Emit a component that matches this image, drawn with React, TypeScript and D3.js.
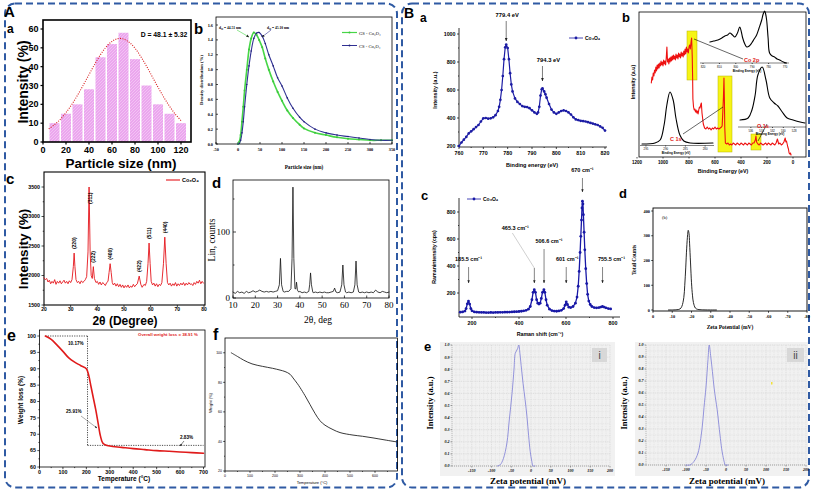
import React, { useEffect, useRef } from "react";
import * as d3 from "d3";

const SANS = "'Liberation Sans', Arial, Helvetica, sans-serif";
const SERIF = "'Liberation Serif', 'Times New Roman', serif";
const BORDER = "#2f5aa3";

// ---------- A.a particle size histogram ----------
const sizeBins = [10, 20, 30, 40, 50, 60, 70, 80, 90, 100, 110, 120];
const sizeCounts = [10, 15, 20, 28, 45, 52, 58, 44, 30, 20, 15, 10];
const fitSize = [5, 10, 15, 20, 25, 30, 35, 40, 45, 50, 55, 60, 65, 70, 75, 80, 85, 90, 95, 100, 105, 110, 115, 120];
const fitCount = [7.0, 9.2, 12.0, 15.6, 19.9, 24.8, 30.2, 35.8, 41.3, 46.4, 50.5, 53.4, 54.9, 54.7, 52.9, 49.8, 45.4, 40.3, 34.7, 29.1, 23.8, 19.0, 14.8, 11.4];
const sizeTicks = [0, 20, 40, 60, 80, 100, 120];
const countTicks = [0, 10, 20, 30, 40, 50, 60];

// ---------- A.b particle size distribution ----------
const psdSize = [0, 3, 6, 9, 12, 15, 20, 25, 30, 36, 42, 48, 55, 62, 70, 80, 90, 100, 112, 125, 140, 150, 175, 200, 225, 250, 275, 300, 325, 350];
const psdGS = [0, 0.03, 0.12, 0.3, 0.5, 0.72, 1.0, 1.27, 1.42, 1.5, 1.47, 1.4, 1.3, 1.15, 1.0, 0.84, 0.7, 0.58, 0.45, 0.35, 0.26, 0.21, 0.15, 0.12, 0.09, 0.07, 0.06, 0.05, 0.05, 0.05];
const psdCS = [0, 0.01, 0.05, 0.15, 0.3, 0.5, 0.8, 1.05, 1.25, 1.42, 1.49, 1.5, 1.45, 1.35, 1.2, 1.05, 0.89, 0.78, 0.62, 0.48, 0.36, 0.3, 0.2, 0.15, 0.12, 0.1, 0.08, 0.06, 0.05, 0.05];
const psdXTicks = [-50, 0, 50, 100, 150, 200, 250, 300, 350];
const psdYTicks = [0, 0.2, 0.4, 0.6, 0.8, 1.0, 1.2, 1.4, 1.6];

// ---------- A.c XRD (red) ----------
const xrdRed: [number, number][] = [
  [20, 1960], [20.5, 1930], [21, 1950], [21.5, 1890], [22, 1920], [22.5, 1860], [23, 1900], [23.5, 1870], [24, 1930], [24.5, 1850],
  [25, 1900], [25.5, 1870], [26, 1910], [26.5, 1860], [27, 1890], [27.5, 1920], [28, 1870], [28.5, 1900], [29, 1860], [29.5, 1910],
  [30, 1880], [30.5, 1930], [31, 2150], [31.3, 2380], [31.6, 2150], [32, 1930], [32.5, 1880], [33, 1900], [33.5, 1860], [34, 1910],
  [34.5, 1880], [35, 1900], [35.5, 1930], [36, 1980], [36.5, 2400], [36.9, 3500], [37.3, 2400], [37.7, 2000], [38.1, 1950], [38.5, 2150],
  [38.9, 1950], [39.5, 1880], [40, 1900], [40.5, 1850], [41, 1890], [41.5, 1840], [42, 1880], [42.5, 1860], [43, 1830], [43.5, 1880],
  [44, 1900], [44.4, 2050], [44.8, 2200], [45.2, 2050], [45.6, 1880], [46, 1840], [46.5, 1870], [47, 1820], [47.5, 1860], [48, 1810],
  [48.5, 1850], [49, 1800], [49.5, 1840], [50, 1790], [50.5, 1830], [51, 1800], [51.5, 1840], [52, 1790], [52.5, 1820], [53, 1800],
  [53.5, 1850], [54, 1810], [54.5, 1840], [55, 1860], [55.7, 1990], [56.3, 1850], [56.8, 1800], [57.5, 1850], [58, 1830], [58.5, 1900],
  [59, 2200], [59.4, 2550], [59.8, 2200], [60.2, 1900], [60.7, 1840], [61.2, 1870], [61.7, 1820], [62.2, 1860], [62.7, 1810], [63.2, 1850],
  [63.7, 1830], [64.2, 1880], [64.8, 2200], [65.3, 2650], [65.8, 2200], [66.3, 1880], [66.8, 1840], [67.3, 1870], [67.8, 1820], [68.3, 1860],
  [68.8, 1830], [69.3, 1880], [69.8, 1820], [70.3, 1860], [70.8, 1830], [71.3, 1870], [71.8, 1840], [72.3, 1880], [72.8, 1830], [73.3, 1870],
  [73.8, 1840], [74.3, 1880], [74.8, 1850], [75.3, 1860], [75.8, 1830], [76.3, 1880], [76.8, 1850], [77.3, 1900], [77.8, 1870], [78.3, 1920],
  [78.8, 1860], [79.3, 1900], [79.8, 1870],
];
const xrdPeakPos = [31.3, 36.9, 38.5, 44.8, 55.7, 59.4, 65.3];
const xrdPeakLabel = ["(220)", "(311)", "(222)", "(400)", "(422)", "(511)", "(440)"];
const xrdPeakLabelTop = [2380, 3500, 2150, 2200, 1990, 2550, 2650];
const xrdXTicks = [20, 30, 40, 50, 60, 70, 80];
const xrdYTicks = [1500, 2000, 2500, 3000, 3500];

// ---------- A.d XRD (black) ----------
const xrdBlack: [number, number][] = [
  [10, 9], [11, 7], [12, 10], [13, 8], [14, 9], [15, 7], [16, 10], [17, 8], [18, 9], [19, 11], [20, 9], [21, 10], [22, 12], [23, 10],
  [24, 9], [25, 10], [26, 9], [27, 10], [28, 9], [29, 10], [30, 11], [30.8, 20], [31.3, 60], [31.8, 20], [32.5, 10], [33, 9], [34, 10],
  [35, 10], [36, 14], [36.5, 60], [36.9, 168], [37.3, 60], [37.8, 14], [38.2, 14], [38.5, 24], [38.9, 12], [39.5, 9], [40, 10], [41, 8],
  [42, 9], [43, 8], [44, 10], [44.4, 20], [44.8, 38], [45.2, 20], [45.8, 9], [46, 8], [47, 9], [48, 8], [49, 9], [50, 8], [51, 9], [52, 8],
  [53, 8], [54, 9], [55, 10], [55.6, 15], [56.2, 9], [57, 8], [58, 9], [58.8, 20], [59.3, 50], [59.8, 20], [60.5, 9], [61, 8], [62, 9],
  [63, 8], [64, 9], [64.7, 20], [65.2, 56], [65.7, 20], [66.4, 9], [67, 8], [68, 9], [69, 8], [70, 9], [71, 8], [72, 9], [73, 8], [74, 12],
  [75, 9], [76, 8], [77, 10], [78, 9], [79, 8], [80, 9],
];
const linXTicks = [10, 20, 30, 40, 50, 60, 70, 80];

// ---------- A.e TGA (red) ----------
const tgaTemp = [25, 50, 75, 100, 125, 150, 175, 200, 210, 220, 230, 240, 250, 260, 270, 280, 300, 350, 400, 450, 500, 550, 600, 650, 700];
const tgaWeight = [100, 99, 97.2, 95.3, 93.3, 92, 91, 90, 88, 84.5, 81, 77.5, 73.5, 69.5, 67.3, 66.8, 66.4, 66, 65.6, 65.3, 65, 64.8, 64.6, 64.4, 64.2];
const tgaXTicks = [0, 100, 200, 300, 400, 500, 600, 700];
const tgaYTicks = [60, 65, 70, 75, 80, 85, 90, 95, 100];

// ---------- A.f TGA (black) ----------
const tgbTemp = [25, 50, 75, 108, 150, 190, 220, 240, 260, 272, 290, 300, 320, 340, 360, 380, 400, 432, 460, 512, 550, 592, 640, 690];
const tgbWeight = [100, 97.5, 95, 92.5, 90.8, 89.5, 88.3, 87.3, 85.5, 83, 79, 76.5, 71, 65, 59, 54, 51, 48, 46, 44.3, 43.5, 42.4, 41, 39.6];
const tgbXTicks = [0, 100, 200, 300, 400, 500, 600];
const tgbYTicks = [20, 40, 60, 80, 100];

// ---------- B.a XPS Co 2p ----------
const xpsCo: [number, number][] = [
  [760, 200], [761, 225], [762, 245], [763, 265], [764, 290], [765, 305], [766, 320], [767, 335], [768, 350], [769, 375], [770, 398],
  [771, 400], [772, 395], [773, 398], [774, 405], [775, 420], [776, 450], [776.5, 480], [777, 530], [777.5, 600], [778, 700], [778.5, 820],
  [779, 905], [779.4, 925], [780, 900], [780.5, 820], [781, 720], [781.5, 640], [782, 590], [783, 540], [784, 515], [785, 500], [786, 485],
  [787, 480], [788, 478], [789, 470], [790, 455], [791, 440], [792, 430], [792.5, 440], [793, 480], [793.5, 560], [794, 605], [794.3, 612],
  [795, 590], [795.5, 570], [796, 545], [797, 500], [798, 460], [799, 440], [800, 430], [801, 440], [802, 450], [803, 455], [804, 450],
  [805, 440], [806, 425], [807, 405], [808, 390], [809, 385], [810, 380], [811, 378], [812, 375], [813, 370], [814, 365], [815, 360],
  [816, 355], [817, 350], [818, 340], [819, 330], [820, 310],
];
const xpsXTicks = [760, 770, 780, 790, 800, 810, 820];
const xpsYTicks = [200, 400, 600, 800, 1000];

// ---------- B.b survey ----------
const survey: [number, number][] = [
  [1090, 74], [1085, 80], [1080, 77], [1075, 84], [1070, 81], [1065, 87], [1060, 84], [1055, 90], [1050, 86], [1045, 92], [1040, 88],
  [1035, 93], [1030, 89], [1025, 94], [1020, 91], [1015, 96], [1010, 92], [1005, 95], [1000, 91], [995, 97], [990, 93], [985, 96],
  [980, 92], [975, 99], [970, 110], [965, 95], [960, 98], [955, 93], [950, 99], [945, 95], [940, 100], [935, 96], [930, 101], [925, 97],
  [920, 102], [915, 98], [910, 101], [905, 97], [900, 103], [895, 99], [890, 102], [885, 98], [880, 104], [875, 100], [870, 103], [865, 99],
  [860, 105], [855, 101], [850, 104], [845, 100], [840, 106], [835, 102], [830, 108], [825, 103], [820, 110], [815, 105], [810, 108],
  [805, 104], [800, 110], [795, 112], [790, 108], [785, 114], [780, 119], [778, 112], [775, 100], [772, 78], [770, 58], [765, 50],
  [760, 47], [755, 48], [750, 45], [745, 47], [740, 44], [735, 46], [730, 43], [725, 47], [720, 50], [715, 49], [710, 52], [705, 54],
  [700, 44], [690, 33], [680, 29], [670, 28], [660, 30], [650, 28], [640, 29], [630, 27], [620, 29], [610, 28], [600, 30], [590, 28],
  [580, 29], [570, 28], [560, 29], [550, 30], [545, 31], [540, 45], [535, 60], [531, 79], [528, 60], [525, 30], [520, 14], [510, 13],
  [500, 14], [490, 12], [480, 13], [470, 12], [460, 14], [450, 13], [440, 12], [430, 14], [420, 13], [410, 12], [400, 14], [390, 13],
  [380, 12], [370, 14], [360, 13], [350, 12], [340, 14], [330, 13], [320, 12], [310, 14], [300, 14], [290, 17], [285, 21], [280, 15],
  [270, 13], [260, 12], [250, 14], [240, 13], [230, 12], [220, 13], [210, 14], [200, 12], [190, 14], [180, 13], [170, 12], [160, 14],
  [150, 13], [140, 12], [130, 14], [120, 18], [110, 13], [100, 14], [90, 12], [80, 13], [70, 15], [60, 19], [55, 15], [50, 16], [45, 13],
  [40, 10], [35, 8], [30, 4], [25, 3], [20, 4], [15, 2],
];
const surveyTicks = [1200, 1000, 800, 600, 400, 200, 0];
const insetCo: [number, number][] = [
  [815.8, 21], [813.5, 22], [810.9, 23], [808.5, 25], [806.7, 27], [805, 28], [803.6, 30], [802, 28], [800.6, 26], [799, 30], [797.6, 36],
  [796.6, 31], [795.8, 25], [794.5, 19], [793.3, 16], [791.8, 17], [790.3, 20], [788.8, 24], [787.3, 28], [785.8, 35], [784.2, 43],
  [783.3, 49], [782.4, 52], [781.8, 49], [781.2, 43], [780.3, 25], [779.4, 10], [777.8, 7], [776.4, 6], [774.8, 4], [773.3, 3], [771, 1], [769.1, 0],
];
const insetCoTicks = [820, 810, 800, 790, 780, 770];
const insetO: [number, number][] = [
  [538, 7], [536.5, 9], [535.8, 17], [535.2, 32], [534.7, 52], [533.9, 60], [533.2, 47], [532.5, 29], [531.7, 24], [531, 21], [530.2, 15],
  [529.3, 9], [528.2, 7], [526.9, 5], [526, 4],
];
const insetOTicks = [536, 534, 532, 530, 528];
const insetC: [number, number][] = [
  [296, 1], [292.7, 2], [291.4, 5], [290.4, 20], [289.7, 40], [288.9, 53], [288.1, 45], [287.4, 27], [286.4, 10], [285.4, 4], [283.8, 2], [278, 2],
];
const insetCTicks = [295, 290, 285, 280];

// ---------- B.c Raman ----------
const ramanShift = [150, 160, 170, 175, 180, 185, 190, 195, 200, 210, 220, 230, 240, 250, 260, 270, 280, 290, 300, 310, 320, 330, 340, 350, 360, 370, 380, 390, 400, 410, 420, 430, 440, 448, 455, 460, 465, 470, 475, 480, 485, 490, 495, 500, 506, 510, 515, 520, 530, 540, 550, 560, 570, 580, 590, 596, 601, 606, 612, 620, 630, 640, 647, 652, 656, 660, 663, 666, 668, 670, 672, 674, 677, 680, 684, 688, 692, 697, 703, 710, 720, 730, 740, 748, 755, 762, 770, 780, 790];
const ramanInt = [58, 60, 66, 85, 120, 140, 118, 85, 68, 60, 58, 57, 56, 56, 55, 55, 56, 55, 56, 56, 57, 57, 58, 58, 59, 60, 61, 62, 63, 65, 68, 72, 80, 100, 150, 205, 225, 205, 150, 125, 118, 125, 160, 205, 225, 205, 150, 110, 80, 70, 66, 65, 67, 72, 85, 110, 135, 115, 95, 92, 100, 125, 170, 250, 360, 500, 620, 740, 830, 880, 860, 780, 650, 520, 380, 270, 190, 140, 115, 100, 92, 90, 92, 96, 100, 96, 90, 85, 82];
const ramanXTicks = [200, 400, 600, 800];
const ramanYTicks = [200, 400, 600, 800];
const ramanPeaks = [185.5, 465.3, 506.6, 601, 670, 755.5];
const ramanPeakLabels = ["185.5 cm⁻¹", "465.3 cm⁻¹", "506.6 cm⁻¹", "601 cm⁻¹", "670 cm⁻¹", "755.5 cm⁻¹"];

// ---------- B.d zeta (counts) ----------
const zetaMv = [-8, -12, -14, -15, -16, -16.5, -17, -17.5, -18, -18.3, -18.7, -19, -19.5, -20, -20.5, -21, -22, -23, -25, -33];
const zetaCounts = [0, 1, 4, 15, 50, 100, 170, 250, 305, 322, 310, 270, 190, 110, 60, 30, 8, 3, 1, 0];
const zetaXTicks = [0, -10, -20, -30, -40, -50, -60, -70, -80];
const zetaYTicks = [0, 100, 200, 300, 400];

// ---------- B.e zeta (normalised) ----------
const zetaIMv = [-85, -78, -70, -61, -55, -48, -43, -40, -37, -34, -31, -28, -24, -20, -15, -10, -6, -2, 2, 5, 10];
const zetaIInt = [0, 0.01, 0.06, 0.19, 0.38, 0.6, 0.8, 0.93, 0.95, 0.97, 1.0, 0.93, 0.8, 0.68, 0.55, 0.4, 0.25, 0.12, 0.04, 0.0, 0.0];
const zetaIIMv = [-100, -90, -80, -70, -60, -55, -50, -45, -42, -38, -34, -30, -26, -22, -18, -15, -11, -8, -4, -2, 5];
const zetaIIInt = [0, 0.0, 0.03, 0.1, 0.3, 0.48, 0.65, 0.88, 1.0, 0.9, 0.78, 0.65, 0.55, 0.46, 0.34, 0.25, 0.14, 0.08, 0.02, 0.0, 0.0];
const zetaEXTicks = [-150, -100, -50, 0, 50, 100, 150, 200];
const zetaEYTicks = [0, 0.1, 0.2, 0.3, 0.4, 0.5, 0.6, 0.7, 0.8, 0.9, 1.0];

// ================= helpers =================
function T(g: any, x: number, y: number, s: string, size: number, o: any = {}) {
  const t = g.append("text")
    .attr("x", x).attr("y", y)
    .attr("font-size", size)
    .attr("font-family", o.family || SANS)
    .attr("font-weight", o.weight || "normal")
    .attr("fill", o.fill || "#000")
    .attr("text-anchor", o.anchor || "start");
  if (o.style) t.attr("font-style", o.style);
  if (o.rotate !== undefined) t.attr("transform", `rotate(${o.rotate},${x},${y})`);
  t.text(s);
  return t;
}
function L(g: any, x1: number, y1: number, x2: number, y2: number, o: any = {}) {
  const l = g.append("line").attr("x1", x1).attr("y1", y1).attr("x2", x2).attr("y2", y2)
    .attr("stroke", o.stroke || "#000").attr("stroke-width", o.w ?? 0.7);
  if (o.dash) l.attr("stroke-dasharray", o.dash);
  if (o.arrow) l.attr("marker-end", "url(#arr)");
  return l;
}
function xAxis(g: any, sc: any, y: number, ticks: number[], o: any) {
  const len = o.len ?? 2.5;
  ticks.forEach((v) => {
    const x = sc(v);
    L(g, x, y, x, y + len, { w: o.tw ?? 0.7, stroke: o.tc });
    if (!o.noLabel) T(g, x, y + o.dy, o.fmt ? o.fmt(v) : String(v), o.size, { anchor: "middle", family: o.family, weight: o.weight, style: o.style, fill: o.fill });
  });
  (o.minor || []).forEach((v: number) => { const x = sc(v); L(g, x, y, x, y + len / 2, { w: o.tw ?? 0.7, stroke: o.tc }); });
}
function yAxis(g: any, sc: any, x: number, ticks: number[], o: any) {
  const len = o.len ?? 2.5;
  ticks.forEach((v) => {
    const y = sc(v);
    L(g, x, y, x - len, y, { w: o.tw ?? 0.7, stroke: o.tc });
    if (!o.noLabel) T(g, x - o.dx, y + o.size * 0.35, o.fmt ? o.fmt(v) : String(v), o.size, { anchor: "end", family: o.family, weight: o.weight, style: o.style, fill: o.fill });
  });
  (o.minor || []).forEach((v: number) => { const y = sc(v); L(g, x, y, x - len / 2, y, { w: o.tw ?? 0.7, stroke: o.tc }); });
}
function P(g: any, pts: [number, number][], xs: any, ys: any, o: any) {
  const gen = d3.line<[number, number]>().x((d) => xs(d[0])).y((d) => ys(d[1])).curve(o.curve || d3.curveLinear);
  const p = g.append("path").attr("d", gen(pts)).attr("fill", "none").attr("stroke", o.stroke || "#000")
    .attr("stroke-width", o.w ?? 1).attr("stroke-linejoin", "round").attr("stroke-linecap", o.cap || "round");
  if (o.dash) p.attr("stroke-dasharray", o.dash);
  return p;
}
function box(g: any, x1: number, y1: number, x2: number, y2: number, w = 0.8, fill = "none") {
  g.append("rect").attr("x", x1).attr("y", y1).attr("width", x2 - x1).attr("height", y2 - y1)
    .attr("fill", fill).attr("stroke", "#000").attr("stroke-width", w);
}
const zip = (a: number[], b: number[]) => a.map((v, i) => [v, b[i]] as [number, number]);

// ================= panels =================
function panelAa(g: any) {
  const xs = d3.scaleLinear().domain([0, 128]).range([43, 190.2]);
  const ys = d3.scaleLinear().domain([0, 60]).range([142, 29]);
  sizeBins.forEach((b, i) => {
    g.append("rect").attr("x", xs(b) - 5).attr("y", ys(sizeCounts[i])).attr("width", 10)
      .attr("height", ys(0) - ys(sizeCounts[i])).attr("fill", "url(#barPat)");
  });
  P(g, zip(fitSize, fitCount), xs, ys, { stroke: "#d81e1e", w: 1.1, dash: "1,1.4", cap: "butt", curve: d3.curveCatmullRom });
  box(g, 43, 20, 191, 142, 1.6);
  xAxis(g, xs, 142, sizeTicks, { len: 2.5, dy: 11, size: 9, weight: "bold", tw: 1.2 });
  yAxis(g, ys, 43, countTicks, { len: 2.5, dx: 4.5, size: 9, weight: "bold", tw: 1.2 });
  T(g, 28, 82, "Intensity (%)", 14, { weight: "bold", anchor: "middle", rotate: -90 });
  T(g, 121, 168, "Particle size (nm)", 13.5, { weight: "bold", anchor: "middle" });
  T(g, 164, 37, "D = 48.1 ± 5.32", 6.8, { weight: "bold", anchor: "middle" });
  T(g, 4, 17, "A", 15, { weight: "bold" });
  T(g, 7, 33, "a", 12, { weight: "bold" });
}

function panelAb(g: any) {
  const xs = d3.scaleLinear().domain([-50, 350]).range([216, 392]);
  const ys = d3.scaleLinear().domain([0, 1.6]).range([144, 25]);
  box(g, 216, 17, 392, 144, 0.8);
  xAxis(g, xs, 144, psdXTicks, { len: -2, dy: 7, size: 4.3, family: SERIF, weight: "bold" });
  yAxis(g, ys, 216, psdYTicks, { len: -2, dx: 3, size: 4.3, family: SERIF, weight: "bold", fmt: (v: number) => v.toFixed(1) });
  const gs = zip(psdSize, psdGS), cs = zip(psdSize, psdCS);
  P(g, gs, xs, ys, { stroke: "#47d647", w: 1.6, curve: d3.curveCatmullRom });
  P(g, cs, xs, ys, { stroke: "#303093", w: 1.1, curve: d3.curveCatmullRom });
  gs.forEach((d) => g.append("circle").attr("cx", xs(d[0])).attr("cy", ys(d[1])).attr("r", 1).attr("fill", "#3cc43c"));
  cs.forEach((d) => g.append("circle").attr("cx", xs(d[0])).attr("cy", ys(d[1])).attr("r", 0.8).attr("fill", "#22227a"));
  T(g, 203, 80, "Density distribution (%)", 4.8, { family: SERIF, weight: "bold", anchor: "middle", rotate: -90 });
  T(g, 304, 169, "Particle size (nm)", 5.2, { family: SERIF, weight: "bold", anchor: "middle" });
  // legend
  L(g, 342, 32.5, 357, 32.5, { stroke: "#47d647", w: 1.2 });
  g.append("circle").attr("cx", 349.5).attr("cy", 32.5).attr("r", 1).attr("fill", "#3cc43c");
  T(g, 359, 34.5, "GS - Co₃O₄", 4.6, { family: SERIF });
  L(g, 342, 45.5, 357, 45.5, { stroke: "#303093", w: 1 });
  g.append("circle").attr("cx", 349.5).attr("cy", 45.5).attr("r", 0.9).attr("fill", "#22227a");
  T(g, 359, 47.5, "CS - Co₃O₄", 4.6, { family: SERIF });
  // d50 annotations
  T(g, 219, 28.5, "d₅₀ = 44.51 nm", 3.6, { family: SERIF, weight: "bold" });
  L(g, 237, 30, 249, 37, { stroke: "#47d647", w: 0.6, arrow: true });
  T(g, 267, 28.5, "d₅₀ = 45.10 nm", 3.6, { family: SERIF, weight: "bold" });
  L(g, 271, 30, 262, 37, { stroke: "#303093", w: 0.6, arrow: true });
  T(g, 194, 34, "b", 15, { weight: "bold" });
}

function panelAc(g: any) {
  const xs = d3.scaleLinear().domain([20, 80]).range([44, 204]);
  const ys = d3.scaleLinear().domain([1500, 3500]).range([305, 187]);
  box(g, 44, 172, 205, 305, 1.1);
  P(g, xrdRed, xs, ys, { stroke: "#e4141b", w: 0.9 });
  xAxis(g, xs, 305, xrdXTicks, { len: 2.2, dy: 6.3, size: 5, weight: "bold" });
  yAxis(g, ys, 44, xrdYTicks, { len: 2.5, dx: 4, size: 5.3, weight: "bold", minor: [1750, 2250, 2750, 3250] });
  xrdPeakPos.forEach((p, i) => {
    const x = xs(p) + (i === 1 ? 3 : 1.8);
    const y = ys(xrdPeakLabelTop[i]) - (i === 1 ? -17 : 4);
    T(g, x, y, xrdPeakLabel[i], 5, { weight: "bold", rotate: -90 });
  });
  L(g, 166, 180, 180, 180, { stroke: "#e4141b", w: 1.1 });
  T(g, 182, 182, "Co₃O₄", 5.5, { weight: "bold" });
  T(g, 28, 249, "Intensity (%)", 13.5, { weight: "bold", anchor: "middle", rotate: -90 });
  T(g, 125, 325, "2θ (Degree)", 12, { weight: "bold", anchor: "middle" });
  T(g, 6, 184, "c", 15, { weight: "bold" });
}

function panelAd(g: any) {
  const xs = d3.scaleLinear().domain([10, 80]).range([233, 389]);
  const ys = d3.scaleLinear().domain([0, 100]).range([298, 232]);
  box(g, 233, 180, 389, 298, 0.8);
  P(g, xrdBlack, xs, ys, { stroke: "#111", w: 0.8 });
  xAxis(g, xs, 298, linXTicks, { len: -2.5, dy: 10, size: 9, family: SERIF });
  yAxis(g, ys, 233, [0, 100], { len: -3, dx: 3, size: 9, family: SERIF, minor: [50, 150] });
  T(g, 215, 240, "Lin, counts", 9.5, { family: SERIF, anchor: "middle", rotate: -90 });
  T(g, 318, 323, "2θ, deg", 9.5, { family: SERIF, anchor: "middle" });
  T(g, 212, 188, "d", 15, { weight: "bold" });
}

function panelAe(g: any) {
  const xs = d3.scaleLinear().domain([0, 700]).range([39.5, 203.5]);
  const ys = d3.scaleLinear().domain([60, 100]).range([467, 336]);
  box(g, 39.5, 330, 205, 467, 0.8);
  // dotted guide box
  L(g, xs(25), ys(100), xs(205), ys(100), { dash: "1.2,1.2", w: 0.7 });
  L(g, xs(205), ys(100), xs(205), ys(66.6), { dash: "1.2,1.2", w: 0.7 });
  L(g, xs(205), ys(66.6), xs(700), ys(66.6), { dash: "1.2,1.2", w: 0.7 });
  P(g, zip(tgaTemp, tgaWeight), xs, ys, { stroke: "#e01b1b", w: 1.6, curve: d3.curveCatmullRom });
  xAxis(g, xs, 467, tgaXTicks, { len: 2.2, dy: 7, size: 5.3, weight: "bold", minor: [50, 150, 250, 350, 450, 550, 650] });
  yAxis(g, ys, 39.5, tgaYTicks, { len: 2.2, dx: 3.5, size: 5.3, weight: "bold", minor: [62.5, 67.5, 72.5, 77.5, 82.5, 87.5, 92.5, 97.5] });
  T(g, 23, 400, "Weight loss (%)", 6.5, { weight: "bold", anchor: "middle", rotate: -90 });
  T(g, 124, 481, "Temperature (°C)", 6.5, { weight: "bold", anchor: "middle" });
  T(g, 68, 345, "10.17%", 4.6, { weight: "bold" });
  T(g, 66, 413, "25.91%", 4.6, { weight: "bold" });
  L(g, 81, 416, 97, 428, { w: 0.5, stroke: "#555", arrow: true });
  T(g, 180, 439, "2.83%", 4.6, { weight: "bold" });
  L(g, 184, 441, 180, 446, { w: 0.5, arrow: true });
  T(g, 168, 336, "Overall weight loss = 38.91 %", 4.3, { weight: "bold", fill: "#e01b1b", anchor: "middle" });
  T(g, 7, 341, "e", 16, { weight: "bold" });
}

function panelAf(g: any) {
  const xs = d3.scaleLinear().domain([0, 690]).range([225, 397.5]);
  const ys = d3.scaleLinear().domain([20, 110]).range([471, 338]);
  box(g, 225, 338, 397.5, 471, 0.8);
  P(g, zip(tgbTemp, tgbWeight), xs, ys, { stroke: "#222", w: 0.9, curve: d3.curveCatmullRom });
  xAxis(g, xs, 471, tgbXTicks, { len: 1.8, dy: 5.5, size: 3.5, minor: [50, 150, 250, 350, 450, 550, 650] });
  yAxis(g, ys, 225, tgbYTicks, { len: 1.8, dx: 3, size: 3.5, minor: [30, 50, 70, 90] });
  T(g, 212, 403, "Weight (%)", 4, { anchor: "middle", rotate: -90 });
  T(g, 312, 484, "Temperature (°C)", 4, { anchor: "middle" });
  T(g, 213, 340, "f", 16, { weight: "bold" });
}

function panelBa(g: any) {
  const xs = d3.scaleLinear().domain([760, 820]).range([459, 605]);
  const ys = d3.scaleLinear().domain([200, 1000]).range([146, 34]);
  L(g, 459, 28, 459, 147, { w: 0.8 });
  L(g, 459, 147, 607, 147, { w: 0.8 });
  xAxis(g, xs, 147, xpsXTicks, { len: 2, dy: 8, size: 5.3, weight: "bold", minor: [765, 775, 785, 795, 805, 815] });
  yAxis(g, ys, 459, xpsYTicks, { len: 2, dx: 3.5, size: 5.3, weight: "bold", minor: [300, 500, 700, 900] });
  P(g, xpsCo, xs, ys, { stroke: "#1c1ca4", w: 1.2 });
  xpsCo.forEach((d) => g.append("circle").attr("cx", xs(d[0])).attr("cy", ys(d[1])).attr("r", 1.35).attr("fill", "#1c1ca4"));
  T(g, 437, 90, "Intensity (a.u.)", 5.5, { weight: "bold", anchor: "middle", rotate: -90 });
  T(g, 532, 167, "Binding energy (eV)", 5.5, { weight: "bold", anchor: "middle" });
  T(g, xs(779.4) + 1, 17, "779.4 eV", 5.8, { weight: "bold", anchor: "middle" });
  L(g, xs(779.4), 21, xs(779.4), 41, { w: 0.7, arrow: true, stroke: "#444" });
  T(g, xs(794.3) + 6, 62, "794.3 eV", 5.8, { weight: "bold", anchor: "middle" });
  L(g, xs(794.3), 66, xs(794.3), 81, { w: 0.7, arrow: true, stroke: "#444" });
  L(g, 569, 38, 583, 38, { stroke: "#1c1ca4", w: 0.8 });
  g.append("circle").attr("cx", 576).attr("cy", 38).attr("r", 1.4).attr("fill", "#1c1ca4");
  T(g, 585, 40, "Co₃O₄", 5, { weight: "bold" });
  T(g, 404, 18, "B", 14, { weight: "bold" });
  T(g, 420, 22, "a", 12, { weight: "bold" });
}

function panelBb(g: any) {
  const xs = d3.scaleLinear().domain([1200, 0]).range([637, 793]);
  const ys = d3.scaleLinear().domain([0, 145]).range([157, 12]);
  box(g, 639, 12, 806, 157, 0.8);
  // yellow highlight boxes
  [[687, 31, 10, 49], [718, 76, 14, 76], [751, 134, 10, 16]].forEach((r) =>
    g.append("rect").attr("x", r[0]).attr("y", r[1]).attr("width", r[2]).attr("height", r[3])
      .attr("fill", "#f6f416").attr("stroke", "#b8b400").attr("stroke-width", 0.5));
  P(g, survey, xs, ys, { stroke: "#ee1111", w: 1.1 });
  xAxis(g, xs, 157, surveyTicks, { len: 1.5, dy: 7, size: 4.5, weight: "bold" });
  T(g, 635, 82, "Intensity (a.u)", 5.3, { weight: "bold", anchor: "middle", rotate: -90 });
  T(g, 723, 173, "Binding Energy (eV)", 5.3, { weight: "bold", anchor: "middle" });

  // inset Co 2p
  const cx = d3.scaleLinear().domain([820, 770]).range([703, 785]);
  const cy = d3.scaleLinear().domain([0, 52]).range([63, 11]);
  L(g, 700, 63, 789, 63, { w: 0.5 });
  xAxis(g, cx, 63, insetCoTicks, { len: 1, dy: 4.5, size: 2.8 });
  T(g, 747, 71.5, "Binding Energy (eV)", 3, { weight: "bold", anchor: "middle" });
  P(g, insetCo, cx, cy, { stroke: "#000", w: 1.1, curve: d3.curveCatmullRom });
  // inset O 1s
  const ox = d3.scaleLinear().domain([538, 526]).range([740, 805]);
  const oy = d3.scaleLinear().domain([0, 60]).range([127, 67]);
  L(g, 738, 127, 806, 127, { w: 0.5 });
  xAxis(g, ox, 127, insetOTicks, { len: 1, dy: 4.5, size: 2.8 });
  T(g, 770, 135, "Binding Energy (eV)", 3, { weight: "bold", anchor: "middle" });
  P(g, insetO, ox, oy, { stroke: "#000", w: 1.1, curve: d3.curveCatmullRom });
  // inset C 1s
  const kx = d3.scaleLinear().domain([296, 278]).range([642, 713]);
  const ky = d3.scaleLinear().domain([0, 53]).range([145, 92]);
  L(g, 640, 145.5, 714, 145.5, { w: 0.5 });
  xAxis(g, kx, 145.5, insetCTicks, { len: 1, dy: 4, size: 2.8 });
  T(g, 676, 154, "Binding Energy (eV)", 3, { weight: "bold", anchor: "middle" });
  P(g, insetC, kx, ky, { stroke: "#000", w: 1.1, curve: d3.curveCatmullRom });
  // connectors and labels
  L(g, 694, 39, 743, 59, { w: 0.6 });
  L(g, 723, 107, 683, 134, { w: 0.6 });
  L(g, 767, 124, 758, 141, { w: 0.6 });
  T(g, 744, 62, "Co 2p", 5.5, { weight: "bold", fill: "#e02020" });
  T(g, 670, 141, "C 1s", 5.5, { weight: "bold", fill: "#e02020" });
  T(g, 757, 128, "O 1s", 5.5, { weight: "bold", fill: "#e02020" });
  T(g, 622, 22, "b", 13, { weight: "bold" });
}

function panelBc(g: any) {
  const xs = d3.scaleLinear().domain([200, 800]).range([472, 613]);
  const ys = d3.scaleLinear().domain([0, 800]).range([320, 212]);
  L(g, 459, 198, 459, 317, { w: 0.8 });
  L(g, 459, 317, 620, 317, { w: 0.8 });
  xAxis(g, xs, 317, ramanXTicks, { len: 2, dy: 8, size: 5.3, weight: "bold", minor: [300, 500, 700] });
  yAxis(g, ys, 459, ramanYTicks, { len: 2, dx: 3.5, size: 5.3, weight: "bold", minor: [300, 500, 700] });
  const pts = zip(ramanShift, ramanInt);
  P(g, pts, xs, ys, { stroke: "#1818a6", w: 1.3 });
  pts.forEach((d) => g.append("circle").attr("cx", xs(d[0])).attr("cy", ys(d[1])).attr("r", 1.4).attr("fill", "#1818a6"));
  const labY = [261, 230, 243, 261, 172, 261];
  const labDx = [0, -19, 5, 1, 0, 9];
  ramanPeaks.forEach((p, i) => {
    const x = xs(p);
    const top = i === 4 ? 178 : labY[i] + 6;
    const bot = i === 4 ? 192 : 283;
    T(g, x + labDx[i], labY[i], ramanPeakLabels[i], 5.5, { weight: "bold", anchor: "middle" });
    if (i === 1) {
      L(g, x - 22, 233, x, 268, { w: 0.4, stroke: "#888" });
      L(g, x, 268, x, bot, { w: 0.6, arrow: true, stroke: "#333" });
    } else {
      L(g, x, top, x, bot, { w: 0.6, arrow: true, stroke: "#333" });
    }
  });
  L(g, 467, 199, 481, 199, { stroke: "#1818a6", w: 0.8 });
  g.append("circle").attr("cx", 474).attr("cy", 199).attr("r", 1.4).attr("fill", "#1818a6");
  T(g, 483, 201, "Co₃O₄", 5, { weight: "bold" });
  T(g, 436, 257, "Ramanintensity (cps)", 5.3, { weight: "bold", anchor: "middle", rotate: -90 });
  T(g, 540, 336, "Raman shift (cm⁻¹)", 5.3, { weight: "bold", anchor: "middle" });
  T(g, 421, 200, "c", 13, { weight: "bold" });
}

function panelBd(g: any) {
  const xs = d3.scaleLinear().domain([0, -80]).range([653, 807]);
  const ys = d3.scaleLinear().domain([0, 400]).range([310, 211]);
  box(g, 653, 208, 807, 311, 0.9);
  xAxis(g, xs, 311, zetaXTicks, { len: 1.8, dy: 6.5, size: 4.3, family: SERIF, weight: "bold" });
  yAxis(g, ys, 653, zetaYTicks, { len: 1.8, dx: 3, size: 4.3, family: SERIF, weight: "bold" });
  P(g, zip(zetaMv, zetaCounts), xs, ys, { stroke: "#111", w: 0.9, curve: d3.curveCatmullRom });
  T(g, 636, 260, "Total Counts", 5.5, { family: SERIF, weight: "bold", anchor: "middle", rotate: -90 });
  T(g, 730, 329, "Zeta Potential (mV)", 5.5, { family: SERIF, weight: "bold", anchor: "middle" });
  T(g, 662, 219, "(b)", 4.5, { family: SERIF });
  T(g, 619, 198, "d", 13, { weight: "bold" });
}

function zetaPanel(g: any, bx: number[], pl: number[], mv: number[], inten: number[], tag: string, tagBox: number[], ylabX: number, xlabX: number) {
  const [l, r, t, b] = pl;
  const xs = d3.scaleLinear().domain([-200, 200]).range([l, r]);
  const ys = d3.scaleLinear().domain([0, 1]).range([b, t]);
  g.append("rect").attr("x", bx[0]).attr("y", bx[1]).attr("width", bx[2] - bx[0]).attr("height", bx[3] - bx[1]).attr("fill", "#f1f1f1");
  for (let v = -200; v <= 200; v += 10) {
    L(g, xs(v), t, xs(v), b, { stroke: v % 50 === 0 ? "#c4c4c4" : "#d9d9d9", w: 0.45, dash: "1,0.8" });
  }
  for (let k = 0; k <= 20; k++) {
    const y = ys(k * 0.05);
    L(g, l, y, r, y, { stroke: k % 2 === 0 ? "#c4c4c4" : "#d9d9d9", w: 0.45, dash: "1,0.8" });
  }
  L(g, l, b, r, b, { stroke: "#777", w: 0.6, dash: "1,1" });
  L(g, l, t, l, b, { stroke: "#999", w: 0.5, dash: "1,1" });
  xAxis(g, xs, b, zetaEXTicks, { len: 1.5, dy: 6, size: 4, family: SERIF, weight: "bold", style: "italic", tc: "#777" });
  yAxis(g, ys, l, zetaEYTicks, { len: 1.5, dx: 2.5, size: 4, family: SERIF, weight: "bold", style: "italic", tc: "#777", fmt: (v: number) => v.toFixed(1) });
  P(g, zip(mv, inten), xs, ys, { stroke: "#7b7bd6", w: 0.8, curve: d3.curveCatmullRom });
  g.append("rect").attr("x", tagBox[0]).attr("y", tagBox[1]).attr("width", tagBox[2]).attr("height", tagBox[3]).attr("fill", "#d8d8d8");
  T(g, tagBox[0] + tagBox[2] / 2, tagBox[1] + tagBox[3] - 3, tag, 10, { anchor: "middle", fill: "#444" });
  T(g, ylabX, 403, "Intensity (a.u.)", 8.5, { family: SERIF, weight: "bold", anchor: "middle", rotate: -90 });
  T(g, xlabX, 484, "Zeta potential (mV)", 9, { family: SERIF, weight: "bold", anchor: "middle" });
}

function draw(svgEl: SVGSVGElement) {
  const svg = d3.select(svgEl);
  svg.selectAll("*").remove();
  const defs = svg.append("defs");
  defs.append("marker").attr("id", "arr").attr("viewBox", "0 0 10 10").attr("refX", 9).attr("refY", 5)
    .attr("markerWidth", 5).attr("markerHeight", 5).attr("orient", "auto-start-reverse")
    .append("path").attr("d", "M0,1L10,5L0,9z").attr("fill", "#222");
  const pat = defs.append("pattern").attr("id", "barPat").attr("patternUnits", "userSpaceOnUse").attr("width", 3).attr("height", 3);
  pat.append("rect").attr("width", 3).attr("height", 3).attr("fill", "#eba6ee");
  pat.append("path").attr("d", "M0,3L3,0").attr("stroke", "#f6d6f6").attr("stroke-width", 0.6);

  svg.append("rect").attr("width", 813).attr("height", 492).attr("fill", "#fff");
  const g = svg.append("g");

  // borders
  g.append("rect").attr("x", 5).attr("y", 3.5).attr("width", 392).attr("height", 484).attr("rx", 10)
    .attr("fill", "none").attr("stroke", BORDER).attr("stroke-width", 2).attr("stroke-dasharray", "7,4");
  g.append("rect").attr("x", 402).attr("y", 3.5).attr("width", 407).attr("height", 484).attr("rx", 10)
    .attr("fill", "none").attr("stroke", BORDER).attr("stroke-width", 2).attr("stroke-dasharray", "7,4");

  panelAa(g); panelAb(g); panelAc(g); panelAd(g); panelAe(g); panelAf(g);
  panelBa(g); panelBb(g); panelBc(g); panelBd(g);
  zetaPanel(g, [440, 342, 615, 476], [452, 610, 345, 466], zetaIMv, zetaIInt, "i", [592, 348, 15, 14], 433, 528);
  zetaPanel(g, [635, 342, 808, 476], [646, 806, 345, 465], zetaIIMv, zetaIIInt, "ii", [787, 348, 17, 14], 627, 727);
  g.append("rect").attr("x", 771).attr("y", 382).attr("width", 1.5).attr("height", 2.5).attr("fill", "#f2e23a");
  T(g, 424, 351, "e", 13, { weight: "bold" });
}

export default function App() {
  const ref = useRef<SVGSVGElement>(null);
  useEffect(() => {
    if (ref.current) draw(ref.current);
  }, []);
  return (
    <svg ref={ref} width={813} height={492} viewBox="0 0 813 492"
      style={{ position: "absolute", left: 0, top: 0, display: "block", background: "#fff" }} />
  );
}
